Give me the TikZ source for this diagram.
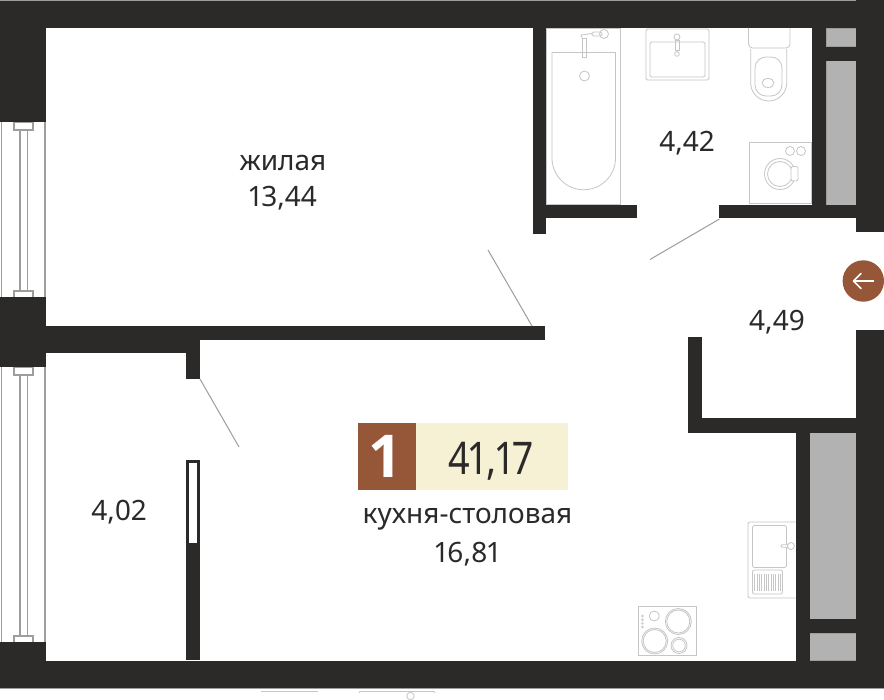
\documentclass[tikz,border=0pt]{standalone}
\usepackage{fontspec}
\setmainfont{Noto Sans}[Numbers={Lining,Proportional}]
\newfontfamily\numfont{Open Sans}
\definecolor{wall}{HTML}{2B2A29}
\definecolor{shaft}{HTML}{B2B2B2}
\definecolor{rust}{HTML}{965638}
\definecolor{cream}{HTML}{F6F1D5}
\definecolor{edge}{HTML}{9D9D9C}
\definecolor{fix}{HTML}{C6C6C6}
\tikzset{
  wallfill/.style={fill=wall,draw=none},
  shaftbox/.style={fill=shaft,draw=edge,line width=.4pt},
  fixture/.style={draw=fix,line width=.8pt,fill=none},
  doorline/.style={draw=edge,line width=1pt},
  winline/.style={draw=edge,line width=1.6pt},
  label/.style={text=wall,font=\fontsize{28}{32}\selectfont,inner sep=0pt,anchor=base}
}
\begin{document}
\begin{tikzpicture}[x=1pt,y=-1pt]
\useasboundingbox (0,0) rectangle (884,700);
\fill[white] (0,0) rectangle (884,700);
% grey shafts
\filldraw[shaftbox] (825.7,28) rectangle (856,46.7);
\filldraw[shaftbox] (825.7,60.7) rectangle (856,205);
\filldraw[shaftbox] (809.5,432.5) rectangle (856,619);
\filldraw[shaftbox] (809.5,633) rectangle (856,660.5);
% windows
\foreach \a/\b in {122/297,367/642}{
  \draw[winline] (1.5,\a) -- (1.5,\b);
  \draw[winline] (45,\a) -- (45,\b);
  \draw[winline] (20,\a) -- (20,\b);
  \draw[winline] (27.5,\a) -- (27.5,\b);
}
\foreach \a in {122,367}{
  \filldraw[draw=edge,line width=1.6pt,fill=white] (14,\a+.5) rectangle (33,\a+8);
}
\foreach \a in {297,642}{
  \filldraw[draw=edge,line width=1.6pt,fill=white] (14,\a-6) rectangle (33,\a+1);
}
% walls
\fill[wallfill] (0,0) rectangle (884,28);
\fill[wallfill] (0,0) rectangle (46,122);
\fill[wallfill] (0,297) rectangle (46,367);
\fill[wallfill] (46,326) rectangle (200,353.5);
\fill[wallfill] (46,326) rectangle (545,340);
\fill[wallfill] (186,340) rectangle (200,379);
\fill[wallfill] (186,460) rectangle (200,660);
\fill[white] (189,463) rectangle (197,543);
\fill[wallfill] (0,642) rectangle (46,688);
\fill[wallfill] (0,660.5) rectangle (884,688);
\fill[wallfill] (533,28) rectangle (546,234);
\fill[wallfill] (533,205) rectangle (637,218);
\fill[wallfill] (719,205) rectangle (884,218);
\fill[wallfill] (811.7,28) rectangle (825.7,218);
\fill[wallfill] (825.7,46.7) rectangle (856,60.7);
\fill[wallfill] (856,0) rectangle (884,232);
\fill[wallfill] (856,330) rectangle (884,688);
\fill[wallfill] (688,337) rectangle (702,432.6);
\fill[wallfill] (688,418.5) rectangle (856,432.6);
\fill[wallfill] (795.7,418.5) rectangle (809.5,660.5);
\fill[wallfill] (809.5,619) rectangle (856,633);
\draw[edge,line width=.7pt] (0,.4) -- (856,.4);
\draw[edge,line width=.7pt] (0,688.3) -- (884,688.3);
% door leaves
\draw[doorline] (200,379) -- (239,447);
\draw[doorline] (719.5,219) -- (650,259.5);
\draw[doorline] (532,326) -- (488,250);
% bath
\draw[fixture] (546.5,28.5) rectangle (620.7,204);
\draw[fixture] (552,52.5) -- (615.5,52.5) -- (615.5,158) arc[start angle=0,end angle=180,radius=31.75] -- cycle;
\draw[fixture] (584.5,76) circle[radius=5];
\draw[fixture] (582,38) rectangle (586,57);
\draw[fixture] (582,38) -- (581,35) -- (592,33.5);
\draw[fixture,fill=white,rounded corners=1.5pt] (592,32) rectangle (602,36);
\draw[fixture] (604,34) circle[radius=4.5];
% basin
\draw[fixture,rounded corners=1.5pt] (646,29) rectangle (709,80);
\draw[fixture,rounded corners=1.5pt] (650,42) rectangle (705,77);
\draw[fixture] (677,37) circle[radius=3];
\draw[fixture] (675,40) rectangle (679,50);
\draw[fixture] (677,50) -- (677,52);
\draw[fixture] (677,54) circle[radius=2.3];
% toilet
\draw[fixture,rounded corners=4pt] (748.5,28) -- (748.5,48) -- (790,48) -- (790,28);
\draw[fixture] (750.7,49) -- (750.7,83) arc[start angle=180,end angle=0,x radius=18,y radius=18] -- (786.7,49);
\draw[fixture,rounded corners=11pt] (755,57) rectangle (782,96);
\draw[fixture] (768,83) ellipse[x radius=6,y radius=4.5];
% washer
\draw[fixture] (749.5,142) rectangle (811,203.5);
\draw[fixture] (780,174) circle[radius=15.5];
\draw[fixture] (780,174) circle[radius=12.5];
\draw[fixture,fill=white,rounded corners=2pt] (791,166.5) rectangle (798,181);
\draw[fixture] (790,151) circle[radius=4.5];
\draw[fixture] (801,151) circle[radius=4.5];
% kitchen sink
\draw[fixture,rounded corners=2pt] (795.5,522) -- (748,522) -- (748,598) -- (795.5,598);
\draw[fixture,rounded corners=2pt] (752.5,525.5) rectangle (786.5,567.5);
\draw[fixture,rounded corners=2pt] (752.5,570) rectangle (782.5,594);
\foreach \i in {0,...,11}{\draw[draw=fix,line width=.6pt] (754.5+\i*2.35,574) -- (754.5+\i*2.35,591);}
\draw[fixture,fill=white,rounded corners=1pt] (781,544.8) rectangle (790,547.2);
\draw[fixture,fill=white] (791,546) circle[radius=3.5];
% hob
\draw[fixture] (638.3,606.5) rectangle (696,655.5);
\draw[fixture] (654.3,616) circle[radius=5];
\draw[fixture] (678.3,621.5) circle[radius=13];
\draw[fixture] (678.3,621.5) circle[radius=11.5];
\draw[fixture] (654.7,641) circle[radius=13];
\draw[fixture] (654.7,641) circle[radius=11.5];
\draw[fixture] (679,645.5) circle[radius=8];
\draw[fixture] (679,645.5) circle[radius=6.3];
\foreach \yy in {616,619.7,623.4,627}{\draw[draw=fix,line width=.6pt] (642.5,\yy) circle[radius=.9];}
% below the plan
\draw[draw=fix,line width=.8pt] (261,691.5) -- (318,691.5);
\draw[draw=fix,line width=.8pt] (359,693) -- (360,691.5) -- (434,691.5) -- (435,693);
\draw[draw=fix,line width=.8pt] (410.5,696) circle[radius=3.7];
% entrance marker
\fill[rust] (863.3,281) circle[radius=20.7];
\draw[white,line width=1.5pt] (854,281) -- (874,281);
\draw[white,line width=1.5pt,line cap=round,line join=round] (861,273.5) -- (853.5,281) -- (861,288.5);
% badge
\fill[rust] (358,423) rectangle (415.5,490);
\fill[cream] (415.5,423) rectangle (568,490);
\node[inner sep=0pt,anchor=base,text=white,font=\fontsize{59}{64}\selectfont\numfont\bfseries] (num) at (385,478) {1};
\node[label,font=\fontsize{45}{50}\selectfont] (total) at (490.5,475) {\scalebox{.84}[1]{41,17}};
% room labels
\node[label] (room1) at (283,171) {жилая};
\node[label] (area1) at (283,206.7) {13,44};
\node[label] (area2) at (687,152) {4,42};
\node[label] (area3) at (777,330.6) {4,49};
\node[label] (area4) at (119,520) {4,02};
\node[label] (room5) at (467.5,523) {кухня-столовая};
\node[label] (area5) at (467.5,562) {16,81};
\end{tikzpicture}
\end{document}
